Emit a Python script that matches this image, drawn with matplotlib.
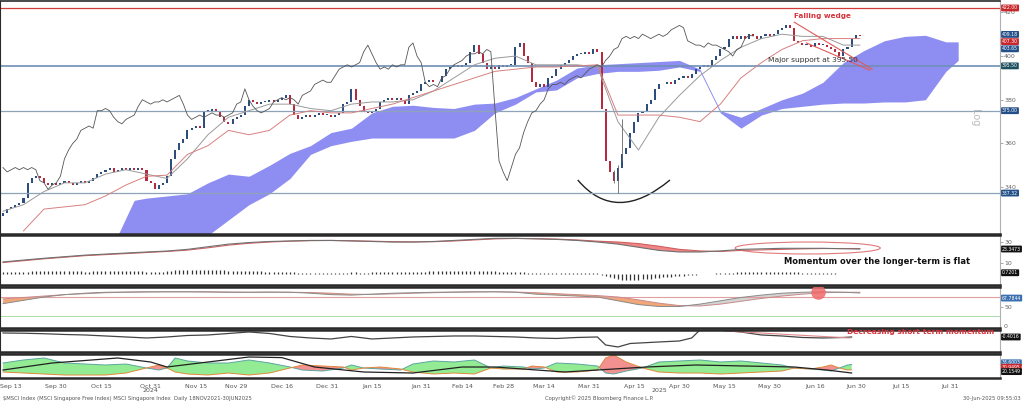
import numpy as np
import matplotlib
matplotlib.use('Agg')
import matplotlib.pyplot as plt
from matplotlib.patches import Ellipse, PathPatch
from matplotlib.path import Path
from matplotlib.transforms import blended_transform_factory

plt.rcParams['font.family'] = ['DejaVu Sans']

# ---------------- data ----------------
start_day = '2024-09-11'

closes = [
    328, 330, 331, 332, 333, 335, 342, 344, 345, 344,
    342, 341, 342, 341, 342, 343, 342, 341, 342, 343,
    342, 343, 344, 346, 347, 348, 349, 347, 348, 349,
    348, 349, 348, 349, 348, 343, 342, 339, 341, 342,
    345, 353, 357, 360, 362, 366, 367, 368, 367, 375,
    375, 376, 375, 372, 370, 369, 371, 372, 373, 377,
    380, 379, 378, 379, 379, 380, 379, 380, 381, 382,
    378, 373, 371, 372, 373, 372, 373, 374, 373, 373,
    372, 373, 374, 378, 379, 385, 380, 377, 375, 374,
    375, 376, 379, 380, 381, 380, 381, 380, 378, 382,
    383, 384, 387, 388, 389, 388, 388, 391, 394, 395,
    396, 395, 396, 397, 402, 405, 401, 397, 394, 395,
    394, 396, 395, 396, 396, 404, 406, 400, 397, 388,
    386, 387, 386, 390, 391, 394, 396, 397, 398, 400,
    401, 401, 402, 401, 403, 402, 376, 352, 347, 343,
    349, 355, 358, 365, 370, 374, 375, 378, 380, 385,
    387, 387, 388, 387, 389, 390, 391, 390, 392, 394,
    395, 396, 395, 398, 400, 403, 404, 408, 409, 408,
    409, 408, 410, 409, 408, 409, 410, 409, 410, 412,
    413, 414, 413, 407, 406, 405, 405, 404, 406, 405,
    405, 404, 403, 402, 400, 403, 404, 408, 409.5, 409.18,
]
first_open = 327
wick_days = [149, 150, 151]
wick_lows = [342, 337.32, 352]
wick_highs = [348, 350, 371]

ichi_days = list(range(0, 210, 5)) + [209]
tenkan = [329, 332, 338, 342, 342, 346, 348, 346, 344, 353, 364, 372, 375, 378, 378,
          376, 375, 378, 379, 379, 380, 384, 390, 396, 399, 400, 396, 396, 396, 395,
          370, 357, 372, 382, 391, 398, 404, 408, 410, 409, 409, 405, 405]
kijun_days = list(range(5, 210, 5)) + [209]
kijun = [320, 330, 331, 332, 336, 341, 345, 345.5, 355, 359, 366, 364, 366, 373, 375,
         374, 374, 376, 378, 381, 384, 387, 390, 393, 394, 395, 395, 395.5, 396, 373,
         373, 373, 372, 370, 378, 390, 397, 403, 407, 408, 408, 408]

cloud_days = [28, 30, 32, 35, 40, 45, 50, 55, 60, 65, 70, 75, 80, 85, 90, 95, 100, 105,
              110, 115, 120, 125, 130, 135, 140, 145, 150, 155, 160, 165, 170, 175, 180,
              185, 190, 195, 200, 205, 210, 215, 220, 225, 230, 233]
cloud_top = [318, 326, 334, 335, 336, 337, 342, 346, 345, 350, 355.5, 359, 365, 367, 374,
             377, 377.5, 376.5, 376, 378, 378.5, 381, 385, 389, 394.5, 396, 396.5, 397,
             397.5, 398, 394, 375, 372, 376, 380, 383, 388, 397, 402.5, 407, 409, 409.5,
             406.5, 406.5]
cloud_bot = [300, 302, 304, 306, 310, 314, 318, 325, 332, 337, 344, 355, 359, 361, 362.5,
             362.5, 362.5, 362.5, 362.5, 366, 374, 378, 383.6, 384.5, 390, 392, 393, 393,
             393.5, 395, 393, 374, 367, 373, 376, 377, 378, 378.5, 378.5, 379, 379, 380,
             393, 398]

wedge_upper = [(193, 415.5), (212, 394)]
wedge_lower = [(196, 406), (211.5, 393.5)]
arc_points = [(140.2, 343.3), (149.5, 322.7), (162.7, 343.3)]

# momentum (long term)
mom_days = ichi_days
mom_line = [11, 12.8, 14.5, 16, 17.5, 18.5, 19.5, 20.5, 21.4, 23, 25.5, 28, 29.5, 30.5, 31,
            31.5, 31.5, 31, 30.5, 30, 30, 30.5, 31.5, 32.5, 33.5, 33.5, 33, 32.5, 31.5, 30,
            28, 25, 22, 20.5, 20.5, 21.5, 23, 23.5, 24, 24, 24, 23.6, 23.35]
mom_signal = [10.5, 12.2, 14, 15.5, 17, 18, 19, 20, 21, 22.3, 24.5, 27, 28.8, 30, 30.8,
              31.3, 31.5, 31.2, 30.8, 30.3, 30.1, 30.3, 31, 32, 33, 33.4, 33.2, 32.8, 32,
              30.8, 30, 28.5, 26, 23, 21.5, 21, 22, 22.5, 23, 23.5, 23.8, 23.8, 23.8]
mom_hist = [
    1.2, 1.3, 1.4, 1.5, 1.6, 1.7, 1.9, 2.1, 2.2, 2.3,
    2.4, 2.4, 2.3, 2.3, 2.2, 2.2, 2.1, 2.1, 2.0, 2.0,
    1.9, 1.9, 2.0, 2.1, 2.2, 2.3, 2.3, 2.4, 2.4, 2.3,
    2.3, 2.2, 2.2, 2.1, 2.0, 1.9, 1.8, 1.7, 1.7, 1.8,
    2.2, 2.6, 2.9, 3.1, 3.3, 3.4, 3.5, 3.5, 3.4, 3.4,
    3.3, 3.2, 3.1, 3.0, 2.9, 2.8, 2.7, 2.7, 2.6, 2.5,
    2.4, 2.3, 2.2, 2.0, 1.9, 1.8, 1.7, 1.6, 1.5, 1.4,
    1.2, 1.0, 0.8, 0.7, 0.6, 0.5, 0.5, 0.4, 0.4, 0.5,
    0.5, 0.6, 0.7, 0.8, 0.9, 1.1, 1.0, 0.9, 0.9, 0.9,
    1.0, 1.1, 1.1, 1.2, 1.2, 1.3, 1.3, 1.3, 1.4, 1.5,
    1.6, 1.7, 1.8, 1.9, 2.0, 2.0, 2.1, 2.2, 2.3, 2.4,
    2.5, 2.5, 2.6, 2.7, 2.8, 2.8, 2.7, 2.6, 2.4, 2.2,
    2.0, 1.9, 1.7, 1.5, 1.4, 1.4, 1.3, 1.1, 0.9, 0.7,
    0.6, 0.5, 0.5, 0.5, 0.6, 0.6, 0.6, 0.6, 0.5, 0.5,
    0.4, 0.4, 0.3, 0.3, 0.2, 0.1, -1.2, -2.6, -3.8, -4.7,
    -5.4, -5.9, -6.2, -6.3, -6.2, -6.0, -5.7, -5.4, -5.0, -4.6,
    -4.2, -3.8, -3.4, -3.0, -2.6, -2.2, -1.9, -1.6, -1.3, -1.0,
    -0.8, -0.6, -0.4, -0.2, 0.1, 0.3, 0.5, 0.7, 0.9, 1.1,
    1.3, 1.4, 1.5, 1.6, 1.6, 1.7, 1.7, 1.7, 1.6, 1.6,
    1.5, 1.5, 1.4, 1.3, 1.1, 0.9, 0.8, 0.7, 0.6, 0.5,
    0.4, 0.3, 0.2, 0.1, 0.0, -0.2, -0.4, -0.5, -0.6, -0.72,
]
mom_ellipse = (196.3, 24.3, 35.4, 11.4)

# RSI style panel
rsi_days = ichi_days
rsi_fast = [56, 63, 70, 75, 78, 80, 80.5, 81, 81, 81, 80.5, 80, 80, 80.5, 80, 78, 75, 74,
            76, 78, 79, 80, 80.5, 81, 81, 80, 76, 74, 72, 70, 62, 54, 50, 50, 55, 62, 69,
            74, 78, 80, 81, 80, 78.5]
rsi_slow = [66, 69, 72, 75, 77, 79, 80, 80.5, 81, 81, 81, 80.5, 80, 80, 80, 79.5, 78, 76,
            75.5, 76.5, 78, 79, 80, 80.5, 81, 80.5, 79, 77, 75, 73, 70, 64, 57, 52, 51, 55,
            61, 67, 72, 76, 79, 80, 80]
rsi_marker = (198.8, 81.5)

# short-term momentum
st_days = [0, 5, 10, 15, 20, 25, 30, 35, 40, 45, 50, 55, 60, 65, 70, 75, 80, 85, 90, 95,
           100, 105, 110, 115, 120, 125, 130, 135, 140, 145, 147, 150, 153, 160, 165, 168,
           170, 175, 180, 185, 190, 195, 200, 205, 207]
st_vals = [0.4, 0.35, 0.25, 0.1, 0.0, -0.2, -0.4, -0.6, -0.4, -0.1, 0.0, 0.3, 0.6, 0.3,
           -0.3, -0.6, -0.8, -0.3, -0.8, -0.6, -0.4, -0.3, -0.2, -0.2, -0.3, -0.4, -0.6,
           -0.7, -0.5, -0.4, -2.0, -2.4, -1.7, -1.4, -1.2, -0.6, 1.0, 1.0, 0.6, 0.0, -0.2,
           -0.5, -0.6, -0.5, -0.4016]
st_trend = [(176, 0.8), (206.6, -0.6)]

# DMI style panel
dmi_days = [0, 5, 10, 15, 20, 25, 30, 35, 38, 40, 42, 45, 50, 55, 60, 65, 70, 73, 78, 83,
            85, 88, 92, 97, 100, 105, 110, 115, 119, 122, 127, 129, 132, 135, 140, 145, 147,
            149, 152, 156, 160, 165, 170, 175, 180, 185, 190, 193, 197, 200, 202, 204, 206,
            207]
plus_di = [37.5, 45, 50, 37.5, 35, 32.5, 35, 25, 20, 25, 50, 42.5, 37.5, 37.5, 45, 37.5,
           27.5, 20, 17.5, 25, 32.5, 25, 22.5, 20, 35, 42.5, 40, 45, 25, 30, 27.5, 22.5, 25,
           37.5, 35, 30, 12.5, 10, 17.5, 25, 40, 42.5, 45, 40, 42.5, 37.5, 32.5, 25, 22.5,
           20, 17.5, 25, 32.5, 33.6]
minus_di = [15, 12.5, 10, 7.5, 7.5, 7.5, 12.5, 25, 32.5, 25, 15, 10, 7.5, 12.5, 7.5, 12.5,
            25, 32.5, 30, 27.5, 20, 25, 27.5, 22.5, 15, 10, 12.5, 10, 25, 22.5, 22.5, 30,
            27.5, 15, 15, 20, 50, 57.5, 40, 25, 15, 12.5, 12.5, 10, 12.5, 15, 17.5, 25, 22.5,
            27.5, 32.5, 25, 20, 20.5]
adx_days = [0, 12, 28, 36, 40, 48, 60, 68, 76, 88, 100, 112, 120, 137, 145, 157, 169, 193,
            201, 207]
adx_vals = [20, 37.5, 50, 40, 27.5, 37.5, 52.5, 51, 27.5, 15, 12.5, 27.5, 27.5, 15, 20,
            27.5, 32.5, 27.5, 20, 12.5]

tick_dates = ['2024-09-13', '2024-09-30', '2024-10-15', '2024-10-31', '2024-11-15',
              '2024-11-29', '2024-12-16', '2024-12-31', '2025-01-15', '2025-01-31',
              '2025-02-14', '2025-02-28', '2025-03-14', '2025-03-31', '2025-04-15',
              '2025-04-30', '2025-05-15', '2025-05-30', '2025-06-16', '2025-06-30',
              '2025-07-15', '2025-07-31']
tick_labels = ['Sep 13', 'Sep 30', 'Oct 15', 'Oct 31', 'Nov 15', 'Nov 29', 'Dec 16',
               'Dec 31', 'Jan 15', 'Jan 31', 'Feb 14', 'Feb 28', 'Mar 14', 'Mar 31',
               'Apr 15', 'Apr 30', 'May 15', 'May 30', 'Jun 16', 'Jun 30', 'Jul 15', 'Jul 31']
year_dates = ['2024-10-31', '2025-04-23']
year_labels = ['2024', '2025']

# ---------------- figure ----------------
fig = plt.figure(figsize=(10.24, 4.03), dpi=100)
W = 1000 / 1024
ax1 = fig.add_axes([0, 0.4194, W, 0.5782])
ax2 = fig.add_axes([0, 0.2928, W, 0.1241])
ax3 = fig.add_axes([0, 0.1861, W, 0.1017])
ax4 = fig.add_axes([0, 0.1266, W, 0.0546])
ax5 = fig.add_axes([0, 0.0620, W, 0.0596])
axes = [ax1, ax2, ax3, ax4, ax5]

x = np.arange(len(closes))
opens = [first_open] + closes[:-1]

for ax in axes:
    ax.set_xlim(-0.73, 243.2)
    for s in ['top', 'bottom']:
        ax.spines[s].set_linewidth(1.8)
        ax.spines[s].set_color('#2a2a2a')
    ax.spines['left'].set_color('#2a2a2a')
    ax.spines['right'].set_color('#b0b0b0')
    ax.yaxis.tick_right()
    ax.tick_params(axis='y', length=2, width=0.5, labelsize=4.5, labelcolor='#666666',
                   color='#888888', pad=1)
    ax.tick_params(axis='x', length=0, labelbottom=False)


def tag(ax, y, text, fc, tc='white'):
    tr = blended_transform_factory(ax.transAxes, ax.transData)
    ax.text(1.002, y, text, transform=tr, fontsize=3.3, color=tc, ha='left', va='center',
            clip_on=False,
            bbox=dict(boxstyle='round,pad=0.2', fc=fc, ec='none'))


# main panel
ax1.set_ylim(318.6, 425.2)
ax1.spines['top'].set_linewidth(1.2)
ax1.set_yticks([340, 360, 380, 400, 420])
ax1.fill_between(cloud_days, cloud_bot, cloud_top, color='#8e8ef2', lw=0)
ax1.axhline(422, color='#d23a3a', lw=0.9)
ax1.axhline(395.5, color='#6f8fb5', lw=1.2)
ax1.axhline(375, color='#8fa3b8', lw=0.9)
ax1.axhline(337.32, color='#8fa3b8', lw=0.9)

ax1.plot(ichi_days, tenkan, color='#9a9a9a', lw=0.7)
ax1.plot(kijun_days, kijun, color='#d88080', lw=0.7)
lag = 26
ax1.plot(x[:-lag], closes[lag:], color='#555555', lw=0.6)

col = ['#2d4d7d' if c >= o else '#b52a3e' for o, c in zip(opens, closes)]
body = [max(abs(c - o), 0.35) for o, c in zip(opens, closes)]
bottom = [min(o, c) for o, c in zip(opens, closes)]
ax1.vlines(wick_days, wick_lows, wick_highs, color='#666666', lw=0.6)
ax1.bar(x, body, bottom=bottom, width=0.5, color=col, lw=0)

for seg in [wedge_upper, wedge_lower]:
    ax1.plot([p[0] for p in seg], [p[1] for p in seg], color='#e05a5a', lw=0.8)
arc = Path(arc_points, [Path.MOVETO, Path.CURVE3, Path.CURVE3])
ax1.add_patch(PathPatch(arc, fc='none', ec='#222222', lw=1.0))

ax1.text(193, 418.3, 'Falling wedge', color='#d8323a', fontsize=5.2, fontweight='bold',
         ha='left', va='center')
ax1.text(186.5, 398, 'Major support at 395.50', color='#333333', fontsize=5.4,
         ha='left', va='center')
ax1.text(0.975, 0.5, 'Log', transform=ax1.transAxes, rotation=270, color='#bbbbbb',
         fontsize=7, ha='center', va='center')

tag(ax1, 422, '422.00', '#c8282d')
tag(ax1, 409.9, '409.18', '#24508a')
tag(ax1, 406.6, '407.30', '#c8282d')
tag(ax1, 403.3, '403.65', '#24508a')
tag(ax1, 395.5, '395.50', '#1d4f5e')
tag(ax1, 375, '375.00', '#24508a')
tag(ax1, 337.32, '337.32', '#24508a')

# momentum panel
ax2.set_ylim(-10.95, 36.7)
ax2.set_yticks([10, 30])
ax2.vlines(x, 0, mom_hist, color='#333333', lw=0.9)
ax2.fill_between(mom_days, mom_line, mom_signal,
                 where=np.array(mom_line) < np.array(mom_signal), interpolate=True,
                 color='#f08585', lw=0)
ax2.plot(mom_days, mom_signal, color='#d06060', lw=0.8)
ax2.plot(mom_days, mom_line, color='#707070', lw=0.8)
ax2.add_patch(Ellipse(mom_ellipse[:2], mom_ellipse[2], mom_ellipse[3], fc='none',
                      ec='#e07a7a', lw=0.8))
ax2.text(190.5, 11, 'Momentum over the longer-term is flat', fontsize=6,
         fontweight='bold', color='#111111', ha='left', va='center')
tag(ax2, 23.35, '23.3473', '#111111')
tag(ax2, 0.72, '0.7201', '#111111')

# RSI panel
ax3.set_ylim(4.7, 91.05)
ax3.set_yticks([50])
ax3.axhline(70, color='#e0a0a0', lw=0.8)
ax3.axhline(30, color='#a8dca8', lw=0.7)
f = np.array(rsi_fast)
s = np.array(rsi_slow)
ax3.fill_between(rsi_days, f, s, where=f < s, interpolate=True, color='#f2a779', lw=0)
ax3.fill_between(rsi_days, f, s, where=f >= s, interpolate=True, color='#d4d4d4', lw=0)
ax3.plot(rsi_days, rsi_slow, color='#c98a8a', lw=0.7)
ax3.plot(rsi_days, rsi_fast, color='#8a8a8a', lw=0.7)
ax3.scatter([rsi_marker[0]], [rsi_marker[1]], s=110, color='#f06a6a', alpha=0.85,
            lw=0, zorder=5)
tag(ax3, 67.78, '67.7844', '#3b6fb0')
tr3 = blended_transform_factory(ax3.transAxes, ax3.transData)
ax3.text(1.004, 8, '0', transform=tr3, fontsize=4.5, color='#666666', ha='left',
         va='center', clip_on=False)

# short-term momentum panel
ax4.set_ylim(-3.4, 1.0)
ax4.set_yticks([])
ax4.plot(st_days, st_vals, color='#444444', lw=0.9)
ax4.plot([p[0] for p in st_trend], [p[1] for p in st_trend], color='#e08a8a', lw=0.8)
ax4.text(206, 0.55, 'Decreasing short-term momentum', color='#d8323a', fontsize=5.4,
         fontweight='bold', ha='left', va='center', clip_on=False)
tag(ax4, -0.4016, '-0.4016', '#111111')

# DMI panel
ax5.set_ylim(0, 60)
ax5.set_yticks([])
p = np.array(plus_di)
m = np.array(minus_di)
ax5.fill_between(dmi_days, p, m, where=p >= m, interpolate=True, color='#93ec93', lw=0)
ax5.fill_between(dmi_days, p, m, where=p < m, interpolate=True, color='#f39090', lw=0)
ax5.plot(dmi_days, plus_di, color='#5aa6a0', lw=0.7)
ax5.plot(dmi_days, minus_di, color='#e0883a', lw=0.7)
ax5.plot(adx_days, adx_vals, color='#222222', lw=0.9)
tag(ax5, 38, '33.6003', '#3b6fb0')
tag(ax5, 27, '30.9495', '#c8282d')
tag(ax5, 16, '20.1549', '#111111')

ticks = [np.busday_count(start_day, d) for d in tick_dates]
ax5.set_xticks(ticks)
ax5.set_xticklabels(tick_labels)
ax5.tick_params(axis='x', labelbottom=True, labelsize=4.5, labelcolor='#555555', pad=4)
trx = blended_transform_factory(ax5.transData, fig.transFigure)
for d, lab in zip(year_dates, year_labels):
    ax5.text(np.busday_count(start_day, d), 0.03, lab, transform=trx, fontsize=4.5,
             color='#555555', ha='center', va='center')

fig.text(0.003, 0.012, '$MSCI Index (MSCI Singapore Free Index) MSCI Singapore Index  '
         'Daily 18NOV2021-30JUN2025', fontsize=3.8, color='#555555', ha='left',
         va='center')
fig.text(0.585, 0.012, 'Copyright\u00a9 2025 Bloomberg Finance L.P.', fontsize=3.8,
         color='#555555', ha='center', va='center')
fig.text(0.997, 0.012, '30-Jun-2025 09:55:03', fontsize=3.8, color='#555555',
         ha='right', va='center')

fig.savefig('out.png', dpi=100)
